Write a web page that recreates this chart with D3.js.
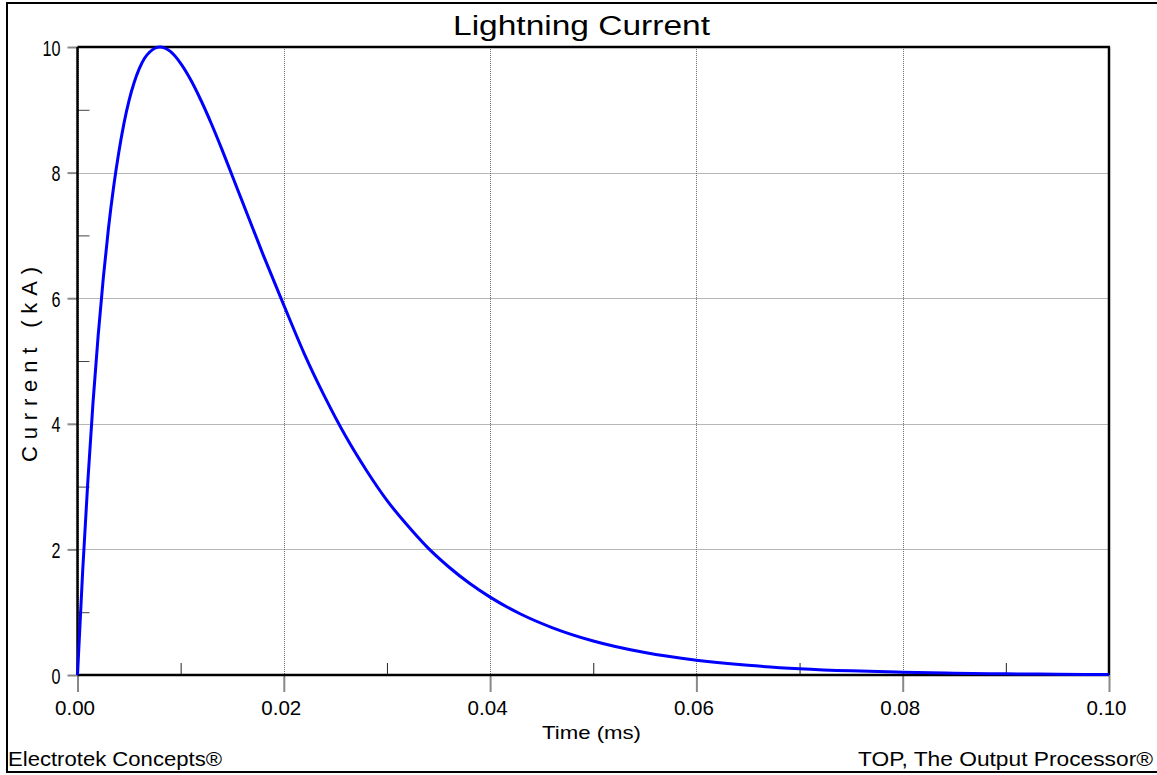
<!DOCTYPE html>
<html>
<head>
<meta charset="utf-8">
<script src="https://cdn.jsdelivr.net/npm/d3@7"></script>
<style>
  html, body { margin: 0; padding: 0; background: #fff; overflow: hidden; }
  svg { display: block; }
  text { font-family: "Liberation Sans", Arial, sans-serif; fill: #000; }
</style>
</head>
<body>
<script>
// ---- data (time in ms, current in kA) ----
const timeMs = [0, 0.0005, 0.001, 0.0015, 0.002, 0.0025, 0.003, 0.0035, 0.004, 0.0045,
  0.005, 0.0055, 0.006, 0.0065, 0.007, 0.0075, 0.008, 0.009, 0.010, 0.011, 0.012,
  0.013, 0.014, 0.015, 0.016, 0.018, 0.020, 0.022, 0.024, 0.026, 0.028, 0.030,
  0.032, 0.034, 0.036, 0.038, 0.040, 0.043, 0.046, 0.050, 0.055, 0.060, 0.065,
  0.070, 0.075, 0.080, 0.085, 0.090, 0.095, 0.100];
const currentKA = [0, 1.65, 3.08, 4.33, 5.40, 6.32, 7.11, 7.77, 8.32, 8.78,
  9.15, 9.44, 9.66, 9.82, 9.92, 9.98, 10.00, 9.93, 9.74, 9.47, 9.14,
  8.77, 8.37, 7.95, 7.53, 6.69, 5.89, 5.11, 4.42, 3.80, 3.26, 2.78,
  2.38, 2.02, 1.72, 1.46, 1.24, 0.967, 0.755, 0.541, 0.357, 0.235, 0.154,
  0.101, 0.066, 0.044, 0.029, 0.019, 0.012, 0.008];

const xMajorTicks = [0, 0.02, 0.04, 0.06, 0.08, 0.10];
const xTickLabels = ["0.00", "0.02", "0.04", "0.06", "0.08", "0.10"];
const xMinorTicks = [0.01, 0.03, 0.05, 0.07, 0.09];
const yMajorTicks = [0, 2, 4, 6, 8, 10];
const yTickLabels = ["0", "2", "4", "6", "8", "10"];
const yMinorTicks = [1, 3, 5, 7, 9];

const titleText = "Lightning Current";
const xLabelText = "Time (ms)";
const yLabelText = "Current (kA)";
const leftFooter = "Electrotek Concepts®";
const rightFooter = "TOP, The Output Processor®";

// ---- layout ----
const W = 1157, H = 775;
const P = { l: 77.5, r: 1109, t: 47, b: 675 };

const svg = d3.select("body").append("svg").attr("width", W).attr("height", H);

const x = d3.scaleLinear().domain([0, 0.1]).range([P.l, P.r]);
const y = d3.scaleLinear().domain([0, 10]).range([P.b, P.t]);

// outer border (right edge falls outside the picture)
svg.append("rect")
  .attr("x", 7).attr("y", 3).attr("width", W).attr("height", 769)
  .attr("fill", "none").attr("stroke", "#000").attr("stroke-width", 2);

// grid
const grid = svg.append("g").attr("stroke", "#6e6e6e").attr("stroke-width", 1)
  .attr("stroke-dasharray", "1,1").attr("fill", "none");
grid.selectAll("line.v").data(xMajorTicks).join("line").attr("class", "v")
  .attr("x1", d => Math.round(x(d)) + 0.5).attr("x2", d => Math.round(x(d)) + 0.5)
  .attr("y1", P.t).attr("y2", P.b);
grid.selectAll("line.h").data(yMajorTicks).join("line").attr("class", "h")
  .attr("y1", d => Math.round(y(d)) + 0.5).attr("y2", d => Math.round(y(d)) + 0.5)
  .attr("x1", P.l).attr("x2", P.r);

// x major ticks (outward) + labels
const gx = svg.append("g").attr("transform", `translate(0,${P.b})`)
  .call(d3.axisBottom(x).tickValues(xMajorTicks).tickSize(17).tickSizeOuter(0)
    .tickFormat((d, i) => xTickLabels[i]));
gx.select(".domain").remove();
gx.selectAll(".tick line").attr("stroke", "#888").attr("stroke-width", 2);
gx.selectAll(".tick text")
  .attr("y", 40).attr("dy", 0).attr("dx", -3)
  .attr("font-size", 20)
  .attr("textLength", 40).attr("lengthAdjust", "spacingAndGlyphs")
  .style("font-family", "'Liberation Sans', Arial, sans-serif");

// x minor ticks (inward)
const gxm = svg.append("g").attr("transform", `translate(0,${P.b})`)
  .call(d3.axisBottom(x).tickValues(xMinorTicks).tickSize(-12).tickSizeOuter(0).tickFormat(""));
gxm.select(".domain").remove();
gxm.selectAll(".tick line").attr("stroke", "#222").attr("stroke-width", 1);

// y major ticks (outward) + labels
const gy = svg.append("g").attr("transform", `translate(${P.l},0)`)
  .call(d3.axisLeft(y).tickValues(yMajorTicks).tickSize(10).tickSizeOuter(0)
    .tickFormat((d, i) => yTickLabels[i]));
gy.select(".domain").remove();
gy.selectAll(".tick line").attr("stroke", "#888").attr("stroke-width", 2);
gy.selectAll(".tick text")
  .attr("x", -17).attr("dy", 8)
  .attr("font-size", 22)
  .attr("textLength", (d, i) => yTickLabels[i].length > 1 ? 18 : 9)
  .attr("lengthAdjust", "spacingAndGlyphs")
  .style("font-family", "'Liberation Sans', Arial, sans-serif");

// y minor ticks (inward)
const gym = svg.append("g").attr("transform", `translate(${P.l},0)`)
  .call(d3.axisLeft(y).tickValues(yMinorTicks).tickSize(-12).tickSizeOuter(0).tickFormat(""));
gym.select(".domain").remove();
gym.selectAll(".tick line").attr("stroke", "#444").attr("stroke-width", 1);

// plot frame
const frame = svg.append("g").attr("stroke", "#000").attr("stroke-width", 2.5);
frame.append("line").attr("x1", P.l).attr("x2", P.r).attr("y1", P.b).attr("y2", P.b);
frame.append("line").attr("x1", P.l).attr("x2", P.l).attr("y1", P.t).attr("y2", P.b);
frame.append("line").attr("x1", P.l).attr("x2", P.r + 1).attr("y1", P.t).attr("y2", P.t);
frame.append("line").attr("x1", P.r).attr("x2", P.r).attr("y1", P.t).attr("y2", P.b);

// curve
const data = timeMs.map((t, i) => ({ t, v: currentKA[i] }));
const line = d3.line().x(d => x(d.t)).y(d => y(d.v)).curve(d3.curveMonotoneX);
svg.append("path").datum(data)
  .attr("d", line)
  .attr("fill", "none").attr("stroke", "#0000ff").attr("stroke-width", 3)
  .attr("stroke-linejoin", "round");

// texts
svg.append("text").attr("x", 453).attr("y", 35)
  .attr("font-size", 27).attr("textLength", 257).attr("lengthAdjust", "spacingAndGlyphs")
  .text(titleText);

svg.append("text").attr("x", 542).attr("y", 739)
  .attr("font-size", 19).attr("textLength", 99).attr("lengthAdjust", "spacingAndGlyphs")
  .text(xLabelText);

svg.append("text")
  .attr("transform", `translate(37,462) rotate(-90)`)
  .attr("x", 0).attr("y", 0)
  .attr("font-size", 22).attr("textLength", 195).attr("lengthAdjust", "spacing")
  .text(yLabelText);

svg.append("text").attr("x", 8).attr("y", 766)
  .attr("font-size", 21).attr("textLength", 214).attr("lengthAdjust", "spacingAndGlyphs")
  .text(leftFooter);

svg.append("text").attr("x", 858).attr("y", 766)
  .attr("font-size", 21).attr("textLength", 295).attr("lengthAdjust", "spacingAndGlyphs")
  .text(rightFooter);
</script>
</body>
</html>
